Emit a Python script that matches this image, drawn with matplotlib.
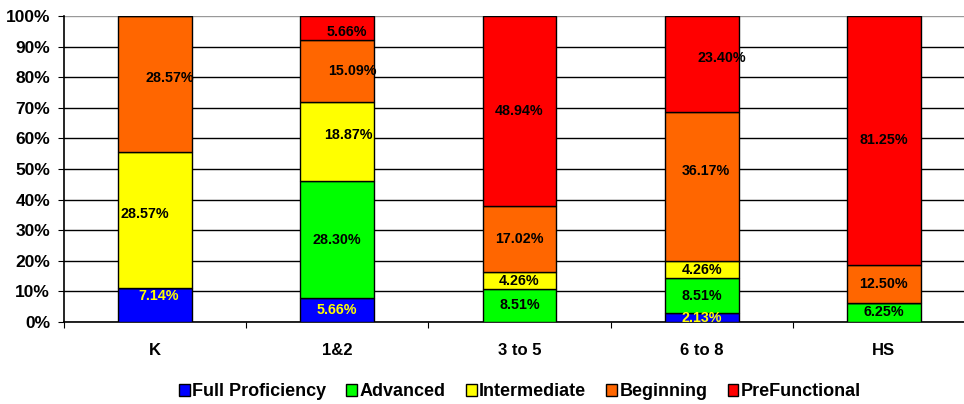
import matplotlib.pyplot as plt
import numpy as np

# grade bands and the raw percentages shown on the bars
grades = ['K', '1&2', '3 to 5', '6 to 8', 'HS']
levels = ['Full Proficiency', 'Advanced', 'Intermediate', 'Beginning', 'PreFunctional']
full_prof = [7.14, 5.66, 0, 2.13, 0]
advanced = [0, 28.30, 8.51, 8.51, 6.25]
intermediate = [28.57, 18.87, 4.26, 4.26, 0]
beginning = [28.57, 15.09, 17.02, 36.17, 12.50]
prefunctional = [0, 5.66, 48.94, 23.40, 81.25]

colors = ['#0000FF', '#00FF00', '#FFFF00', '#FF6600', '#FF0000']
label_colors = ['#FFFF00', 'black', 'black', 'black', 'black']

# small nudges of the value labels (grade idx, level idx) -> (dx, dy in %)
nudge = {
    (0, 3): (0.08, 2), (0, 2): (-0.055, 2), (0, 0): (0.02, 3),
    (1, 4): (0.05, -1.5), (1, 3): (0.08, 0), (1, 2): (0.06, 2),
    (3, 4): (0.11, 2), (3, 3): (0.02, 5),
}

plt.rcParams['font.family'] = ['Liberation Sans', 'DejaVu Sans']
plt.rcParams['font.weight'] = 'bold'

raw = np.array([full_prof, advanced, intermediate, beginning, prefunctional], dtype=float)
share = raw / raw.sum(axis=0) * 100

fig = plt.figure(figsize=(9.64, 4.04), dpi=100)
ax = fig.add_axes([64 / 964, 82 / 404, 911 / 964, 306 / 404])

x = np.arange(len(grades))
width = 0.405
bottom = np.zeros(len(grades))
for i, name in enumerate(levels):
    ax.bar(x, share[i], width, bottom=bottom, color=colors[i], edgecolor='black',
           linewidth=1, label=name, zorder=3)
    for j in range(len(grades)):
        if raw[i, j] > 0:
            dx, dy = nudge.get((j, i), (0, 0))
            ax.text(x[j] + dx, bottom[j] + share[i, j] / 2 + dy, f'{raw[i, j]:.2f}%',
                    ha='center', va='center', fontsize=10.3, fontweight='bold',
                    color=label_colors[i], zorder=4)
    bottom += share[i]

ax.set_xlim(-0.5, len(grades) - 0.5)
ax.set_ylim(0, 100)
ax.set_yticks(np.arange(0, 101, 10))
ax.set_yticklabels([f'{v}%' for v in range(0, 101, 10)], fontsize=12.5, fontweight='bold')
ax.yaxis.grid(True, color='black', linewidth=1, zorder=0)
ax.get_ygridlines()[-1].set_color('#999999')

ax.set_xticks(np.arange(len(grades) + 1) - 0.5)
ax.set_xticklabels([])
ax.set_xticks(x, minor=True)
ax.set_xticklabels(grades, minor=True, fontsize=12, fontweight='bold')
ax.tick_params(axis='x', which='minor', length=0, pad=15)
ax.tick_params(axis='x', which='major', length=4, direction='out')
ax.tick_params(axis='y', length=4, pad=6)

for s in ['top', 'right']:
    ax.spines[s].set_visible(False)
ax.spines['left'].set_linewidth(1.2)
ax.spines['bottom'].set_linewidth(1.2)

fig.legend(loc='center', bbox_to_anchor=(520 / 964, 12 / 404), ncol=5, frameon=False,
           handlelength=0.6, handleheight=0.6, handletextpad=0.15, columnspacing=1.1,
           prop={'weight': 'bold', 'size': 13})

fig.savefig('out.png', dpi=100)
